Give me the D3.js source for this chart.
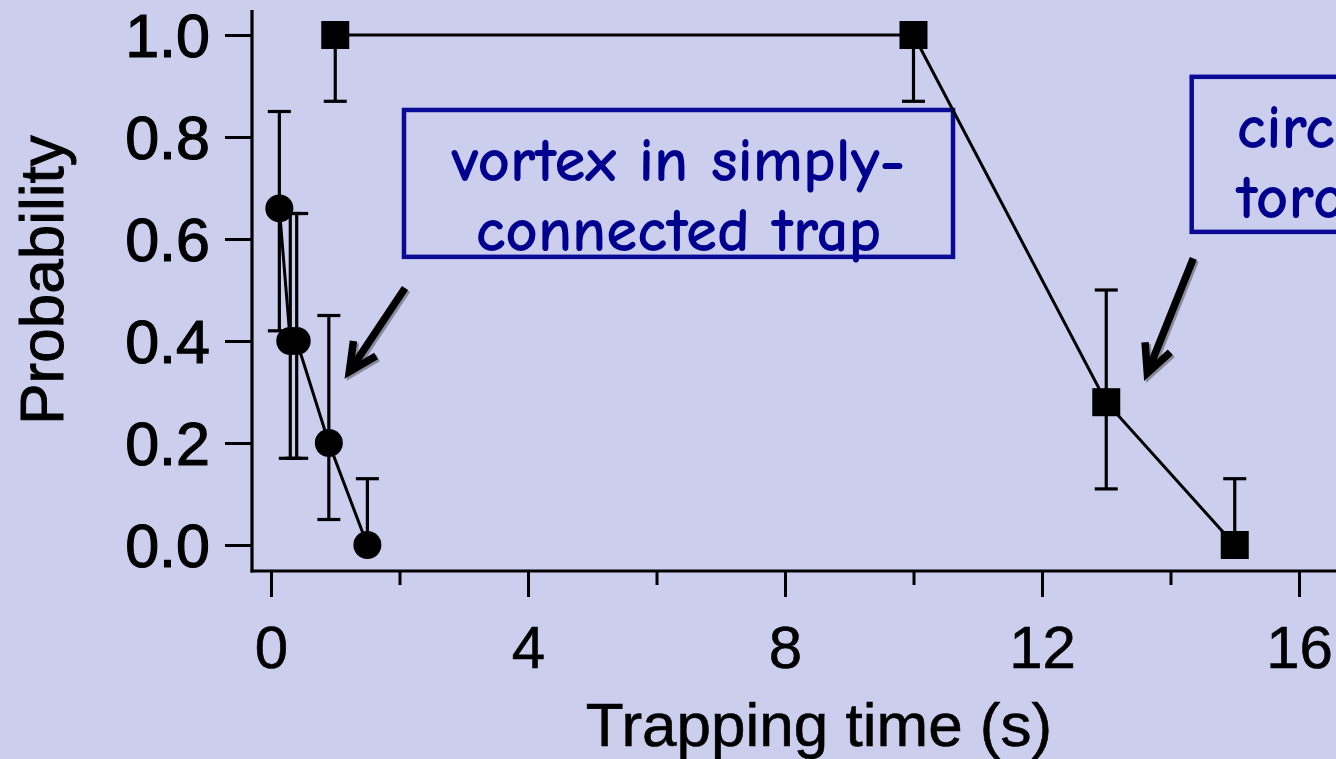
<!DOCTYPE html>
<html>
<head>
<meta charset="utf-8">
<script src="https://cdn.jsdelivr.net/npm/d3@7"></script>
<style>
  html, body { margin: 0; padding: 0; background: #ccceee; overflow: hidden; }
  svg { display: block; }
</style>
</head>
<body>
<svg id="chart" width="1336" height="759"></svg>
<script>
// Vortex in simply-connected trap (filled circles)
const simpleTime = [0.13, 0.3, 0.4, 0.9, 1.5];
const simpleProb = [0.66, 0.40, 0.40, 0.20, 0.00];
const simpleLow  = [0.42, 0.17, 0.17, 0.05, 0.00];
const simpleHigh = [0.85, 0.65, 0.65, 0.45, 0.13];

// Circulation in toroidal trap (filled squares)
const torusTime = [1, 10, 13, 15];
const torusProb = [1.00, 1.00, 0.28, 0.00];
const torusLow  = [0.87, 0.87, 0.11, 0.00];
const torusHigh = [1.00, 1.00, 0.50, 0.13];

// Axis ticks
const xTicks = [0, 2, 4, 6, 8, 10, 12, 14, 16];
const xTickLabels = [0, 4, 8, 12, 16];
const yTicks = [0, 0.2, 0.4, 0.6, 0.8, 1.0];

const W = 1336, H = 759;
const BG = "#ccceee";
const NAVY = "#0a0a96";

const svg = d3.select("#chart");
svg.append("rect").attr("width", W).attr("height", H).attr("fill", BG);

const x = d3.scaleLinear().domain([0, 16]).range([271, 1299]);
const y = d3.scaleLinear().domain([0, 1]).range([545, 35]);

// plot frame edges
const frameLeft = 252, frameBottom = 571, frameTop = 10;

const rows = (t, p, lo, hi) => t.map((d, i) => ({ t: d, p: p[i], lo: lo[i], hi: hi[i] }));
const simple = rows(simpleTime, simpleProb, simpleLow, simpleHigh);
const torus = rows(torusTime, torusProb, torusLow, torusHigh);

// ---- axes ----
const axisFont = "'Liberation Sans', Arial, Helvetica, sans-serif";

const yAxis = d3.axisLeft(y).tickValues(yTicks).tickFormat(d3.format(".1f"))
  .tickSize(27).tickSizeOuter(0).tickPadding(15);
const gy = svg.append("g").attr("transform", `translate(${frameLeft},0)`).call(yAxis);
gy.select(".domain").remove();
gy.selectAll(".tick line").attr("stroke", "#000").attr("stroke-width", 3);
gy.selectAll(".tick text")
  .attr("fill", "#000").attr("stroke", "#000").attr("stroke-width", 1.2)
  .attr("font-family", axisFont).attr("font-size", 61)
  .attr("x", -42).attr("dy", "0.36em");

const xAxis = d3.axisBottom(x).tickValues(xTicks)
  .tickFormat(d => xTickLabels.includes(d) ? d : "").tickSizeOuter(0);
const gx = svg.append("g").attr("transform", `translate(0,${frameBottom})`).call(xAxis);
gx.select(".domain").remove();
gx.selectAll(".tick line").attr("stroke", "#000").attr("stroke-width", 3)
  .attr("y2", d => xTickLabels.includes(d) ? 26 : 14);
gx.selectAll(".tick text")
  .attr("fill", "#000").attr("stroke", "#000").attr("stroke-width", 0.6)
  .attr("font-family", axisFont).attr("font-size", 60)
  .attr("y", 97).attr("dy", 0);

// frame lines
svg.append("line").attr("x1", frameLeft).attr("x2", frameLeft)
  .attr("y1", frameTop).attr("y2", frameBottom + 1.5)
  .attr("stroke", "#000").attr("stroke-width", 3.2);
svg.append("line").attr("x1", frameLeft - 1.5).attr("x2", W)
  .attr("y1", frameBottom).attr("y2", frameBottom)
  .attr("stroke", "#000").attr("stroke-width", 3.2);

// axis titles
svg.append("text").attr("x", 819).attr("y", 746)
  .attr("text-anchor", "middle").attr("font-family", axisFont).attr("font-size", 62)
  .attr("fill", "#000").attr("stroke", "#000").attr("stroke-width", 0.6)
  .text("Trapping time (s)");
svg.append("text").attr("transform", "translate(63,280) rotate(-90)")
  .attr("text-anchor", "middle").attr("font-family", axisFont).attr("font-size", 62)
  .attr("fill", "#000").attr("stroke", "#000").attr("stroke-width", 1)
  .text("Probability");

// ---- annotations (boxes + arrows, placed in data units) ----
const handFont = "'Comic Sans MS', 'Comic Neue', 'Open Sans', sans-serif";

function labelBox(t0, t1, p0, p1, lines, align) {
  const bx = x(t0), by = y(p0), bw = x(t1) - x(t0), bh = y(p1) - y(p0);
  svg.append("rect").attr("x", bx).attr("y", by).attr("width", bw).attr("height", bh)
    .attr("fill", "none").attr("stroke", NAVY).attr("stroke-width", 4.5);
  lines.forEach((s, i) => {
    svg.append("text")
      .attr("x", align === "middle" ? bx + bw / 2 : bx + 45)
      .attr("y", by + 71 + i * 70)
      .attr("text-anchor", align === "middle" ? "middle" : "start")
      .attr("font-family", handFont).attr("font-size", 63).attr("font-weight", "bold")
      .attr("fill", "#00008f").text(s);
  });
}
labelBox(2.07, 10.615, 0.853, 0.565, ["vortex in simply-", "connected trap"], "middle");
labelBox(14.33, 21, 0.918, 0.614, ["circulation in", "toroidal trap"], "start");

function arrow(tTail, pTail, tTip, pTip) {
  const x0 = x(tTail), y0 = y(pTail), x1 = x(tTip), y1 = y(pTip);
  const ang = Math.atan2(y0 - y1, x0 - x1);
  const len = 31, spread = 26 * Math.PI / 180;
  const a1 = [x1 + len * Math.cos(ang - spread), y1 + len * Math.sin(ang - spread)];
  const a2 = [x1 + len * Math.cos(ang + spread), y1 + len * Math.sin(ang + spread)];
  const head = `M${a1[0]},${a1[1]}L${x1},${y1}L${a2[0]},${a2[1]}`;
  const shaft = `M${x0},${y0}L${x1 + 3 * Math.cos(ang)},${y1 + 3 * Math.sin(ang)}`;
  [["#7a7a8a", 2, 2, 0.8], ["#000", 0, 0, 1]].forEach(([c, dx, dy, op]) => {
    const g = svg.append("g").attr("transform", `translate(${dx},${dy})`).attr("opacity", op);
    g.append("path").attr("d", shaft).attr("stroke", c).attr("stroke-width", 7.5).attr("fill", "none");
    g.append("path").attr("d", head).attr("stroke", c).attr("stroke-width", 7.5)
      .attr("fill", "none").attr("stroke-linejoin", "miter").attr("stroke-linecap", "butt");
  });
}
arrow(2.086, 0.504, 1.219, 0.340);
arrow(14.355, 0.562, 13.639, 0.337);

// ---- data ----
function errorBars(data) {
  const g = svg.append("g").attr("stroke", "#000").attr("stroke-width", 3.2);
  data.forEach(d => {
    const cx = x(d.t);
    g.append("line").attr("x1", cx).attr("x2", cx).attr("y1", y(d.lo)).attr("y2", y(d.hi));
    if (d.hi > d.p) g.append("line").attr("x1", cx - 11.5).attr("x2", cx + 11.5).attr("y1", y(d.hi)).attr("y2", y(d.hi));
    if (d.lo < d.p) g.append("line").attr("x1", cx - 11.5).attr("x2", cx + 11.5).attr("y1", y(d.lo)).attr("y2", y(d.lo));
  });
}
errorBars(simple);
errorBars(torus);

const line = d3.line().x(d => x(d.t)).y(d => y(d.p));
[simple, torus].forEach(data => {
  svg.append("path").datum(data).attr("d", line)
    .attr("fill", "none").attr("stroke", "#000").attr("stroke-width", 3);
});

svg.append("g").selectAll("circle").data(simple).join("circle")
  .attr("cx", d => x(d.t)).attr("cy", d => y(d.p)).attr("r", 14).attr("fill", "#000");

svg.append("g").selectAll("rect").data(torus).join("rect")
  .attr("x", d => x(d.t) - 14).attr("y", d => y(d.p) - 14)
  .attr("width", 28).attr("height", 28).attr("fill", "#000");
</script>
</body>
</html>
